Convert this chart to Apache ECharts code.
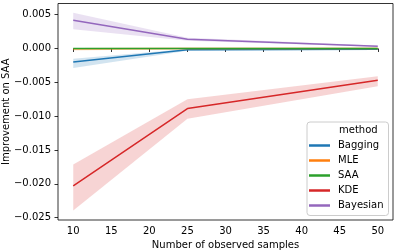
<!DOCTYPE html>
<html>
<head>
<meta charset="utf-8">
<script src="https://cdn.jsdelivr.net/npm/echarts@6/dist/echarts.min.js"></script>
<style>html,body{margin:0;padding:0;background:#fff}#c{width:396px;height:251px}</style>
</head>
<body>
<div id="c"></div>
<script>
var samples = [10, 25, 50];
var methods = ['Bagging', 'MLE', 'SAA', 'KDE', 'Bayesian'];
var baggingMean = [-0.00198, -0.00020, -0.00010];
var baggingLo   = [-0.00287, -0.00035, -0.00018];
var baggingHi   = [-0.00150, -0.00008, -0.00003];
var mleMean = [-0.00002, -0.00001, -0.00001];
var mleLo   = [-0.00030, -0.00008, -0.00004];
var mleHi   = [0.00003, 0.00002, 0.00001];
var saaMean = [0, 0, 0];
var saaLo   = [0, 0, 0];
var saaHi   = [0, 0, 0];
var kdeMean = [-0.02032, -0.00888, -0.00469];
var kdeLo   = [-0.02396, -0.01040, -0.00558];
var kdeHi   = [-0.01716, -0.00750, -0.00410];
var bayesMean = [0.00419, 0.00138, 0.00034];
var bayesLo   = [0.00286, 0.00115, 0.00025];
var bayesHi   = [0.00527, 0.00160, 0.00043];
var xTicks = [10, 15, 20, 25, 30, 35, 40, 45, 50];
var yTicks = [-0.025, -0.020, -0.015, -0.010, -0.005, 0.000, 0.005];

var colors = ['#1f77b4', '#ff7f0e', '#2ca02c', '#d62728', '#9467bd'];
var means = [baggingMean, mleMean, saaMean, kdeMean, bayesMean];
var los = [baggingLo, mleLo, saaLo, kdeLo, bayesLo];
var his = [baggingHi, mleHi, saaHi, kdeHi, bayesHi];
var FONT = 'DejaVu Sans';

function bandData(lo, hi) {
  var d = [];
  for (var i = 0; i < samples.length - 1; i++) {
    d.push([samples[i], lo[i], hi[i], samples[i + 1], lo[i + 1], hi[i + 1]]);
  }
  return d;
}
function lineData(m) {
  return samples.map(function (x, i) { return [x, m[i]]; });
}

var series = [];
methods.forEach(function (name, k) {
  series.push({
    name: name + ' band',
    type: 'custom',
    silent: true,
    data: bandData(los[k], his[k]),
    encode: { x: [0, 3], y: [1, 2, 4, 5] },
    renderItem: function (params, api) {
      var p1 = api.coord([api.value(0), api.value(1)]);
      var p2 = api.coord([api.value(0), api.value(2)]);
      var p3 = api.coord([api.value(3), api.value(5)]);
      var p4 = api.coord([api.value(3), api.value(4)]);
      return {
        type: 'polygon',
        shape: { points: [p1, p2, p3, p4] },
        style: { fill: colors[k], opacity: 0.2, stroke: null }
      };
    },
    z: 2
  });
  series.push({
    name: name,
    type: 'line',
    data: lineData(means[k]),
    showSymbol: false,
    symbol: 'none',
    color: colors[k],
    lineStyle: { width: 1.5, color: colors[k] },
    z: 3 + k * 0.01
  });
});

function fmtY(v) {
  var a = Math.abs(v).toFixed(3);
  if (Math.abs(v) < 1e-9) return '0.000';
  return (v < 0 ? '\u2212' : '') + a;
}

var chart = echarts.init(document.getElementById('c'), null, { renderer: 'canvas' });
chart.setOption({
  animation: false,
  backgroundColor: '#fff',
  textStyle: { fontFamily: FONT },
  grid: {
    left: 58, right: 3, top: 3.5, bottom: 31,
    outerBoundsMode: 'none', containLabel: false,
    show: true, borderColor: '#000', borderWidth: 0.8, backgroundColor: 'transparent'
  },
  xAxis: {
    type: 'value', min: 8, max: 52,
    name: 'Number of observed samples', nameLocation: 'middle', nameGap: 20,
    nameMoveOverlap: false,
    nameTextStyle: { fontFamily: FONT, fontSize: 10, color: '#000' },
    axisLine: { show: false },
    splitLine: { show: false },
    axisTick: { show: true, customValues: xTicks, length: 3.5, lineStyle: { color: '#000', width: 0.8 } },
    axisLabel: { customValues: xTicks, fontFamily: FONT, fontSize: 10, color: '#000', margin: 6 }
  },
  yAxis: {
    type: 'value', min: -0.02535, max: 0.00665,
    name: 'Improvement on SAA', nameLocation: 'middle', nameGap: 52,
    nameMoveOverlap: false,
    nameTextStyle: { fontFamily: FONT, fontSize: 10, color: '#000', verticalAlign: 'middle' },
    axisLine: { show: false },
    splitLine: { show: false },
    axisTick: { show: true, customValues: yTicks, length: 3.5, lineStyle: { color: '#000', width: 0.8 } },
    axisLabel: { customValues: yTicks, fontFamily: FONT, fontSize: 10, color: '#000', margin: 7, formatter: fmtY }
  },
  legend: {
    data: methods,
    orient: 'vertical',
    left: 307, top: 122,
    padding: [16, 5, 2.5, 2],
    itemGap: 0,
    itemWidth: 21, itemHeight: 2.5,
    icon: 'rect',
    backgroundColor: 'rgba(255,255,255,0.8)',
    borderColor: '#cccccc', borderWidth: 1, borderRadius: 3,
    textStyle: { fontFamily: FONT, fontSize: 10, color: '#000', lineHeight: 15, padding: [0, 0, 0, 3] }
  },
  graphic: [{
    type: 'text', left: 339, top: 125, z: 100,
    style: { text: 'method', font: '10px "DejaVu Sans"', fill: '#000' }
  }],
  series: series
});
</script>
</body>
</html>
